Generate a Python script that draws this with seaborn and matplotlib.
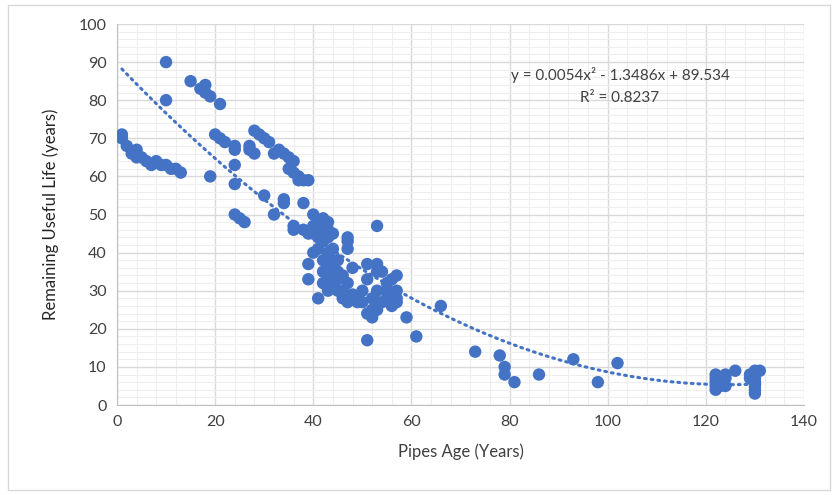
import numpy as np
import pandas as pd
import seaborn as sns
import matplotlib.pyplot as plt
from matplotlib.patches import Rectangle
from matplotlib.ticker import MultipleLocator

# pipe age (years) and remaining useful life (years)
age = [1, 1, 2, 3, 4, 4, 5, 6, 7, 8, 9, 10, 11, 12, 13,
       10, 10, 15, 17, 18, 18, 19, 21, 19, 20, 21, 22, 24, 24, 24, 24, 24, 25, 26,
       27, 27, 28, 28, 29, 30, 30, 31, 32, 32, 33, 34, 34, 34, 35, 35, 36, 36, 36, 36,
       37, 37, 38, 38, 39, 38, 39, 39, 39, 40, 40, 40, 40, 41, 41, 41, 41,
       42, 42, 42, 42, 42, 42, 43, 43, 43, 43, 43, 43, 43, 44, 44, 44, 44, 44,
       45, 45, 45, 45, 46, 46, 46, 47, 47, 47, 47, 47, 48, 48, 48, 49, 49, 50, 50,
       51, 51, 51, 51, 52, 52, 52, 53, 53, 53, 53, 53, 53, 54, 54, 55, 55, 55,
       56, 56, 57, 57, 57, 57, 59, 61, 66, 73, 78, 79, 79, 81, 86, 93, 98, 102,
       122, 122, 122, 122, 122, 123, 123, 123, 124, 124, 124, 126, 129, 129,
       130, 130, 130, 130, 130, 130, 130, 131]
life = [71, 70, 68, 66, 67, 65, 65, 64, 63, 64, 63, 63, 62, 62, 61,
        90, 80, 85, 83, 84, 82, 81, 79, 60, 71, 70, 69, 68, 67, 63, 58, 50, 49, 48,
        68, 67, 72, 66, 71, 70, 55, 69, 66, 50, 67, 66, 54, 53, 65, 62, 64, 61, 47, 46,
        60, 59, 59, 53, 59, 46, 45, 37, 33, 50, 47, 45, 40, 48, 44, 41, 28,
        49, 46, 43, 38, 35, 32, 48, 46, 44, 40, 36, 33, 30, 45, 41, 38, 35, 31,
        38, 35, 33, 30, 34, 30, 28, 44, 43, 41, 32, 27, 29, 28, 36, 28, 27, 30, 27,
        37, 33, 24, 17, 28, 25, 23, 47, 37, 35, 30, 27, 25, 35, 27, 30, 32, 28,
        33, 26, 34, 30, 28, 27, 23, 18, 26, 14, 13, 10, 8, 6, 8, 12, 6, 11,
        8, 7, 6, 5, 4, 7, 6, 5, 8, 7, 5, 9, 8, 7,
        9, 8, 7, 6, 5, 4, 3, 9]

# trendline coefficients as printed on the chart
coef = [0.0054, -1.3486, 89.534]
r2 = 0.8237

blue = "#4472C4"
df = pd.DataFrame({"age": age, "life": life})
xs = np.linspace(1, 131, 200)
trend = pd.DataFrame({"age": xs, "life": np.polyval(coef, xs)})

sns.set_style("white")
plt.rcParams["font.family"] = ["Lato", "DejaVu Sans"]

fig = plt.figure(figsize=(8.38, 4.95), dpi=100)
ax = fig.add_axes([0.1396, 0.1818, 0.8198, 0.7697])

sns.scatterplot(data=df, x="age", y="life", ax=ax, color=blue, s=80,
                edgecolor="none", zorder=3)
sns.lineplot(data=trend, x="age", y="life", ax=ax, color=blue, lw=2.2,
             linestyle=(0, (0.6, 1.6)), dash_capstyle="round", zorder=2)

ax.set_xlim(0, 140)
ax.set_ylim(0, 100)
ax.xaxis.set_major_locator(MultipleLocator(20))
ax.yaxis.set_major_locator(MultipleLocator(10))
ax.xaxis.set_minor_locator(MultipleLocator(4))
ax.yaxis.set_minor_locator(MultipleLocator(2))
ax.grid(which="major", color="#d9d9d9", lw=1)
ax.grid(which="minor", color="#eeeeee", lw=0.8)
ax.set_axisbelow(True)
for s in ["top", "right"]:
    ax.spines[s].set_visible(False)
for s in ["left", "bottom"]:
    ax.spines[s].set_color("#bfbfbf")
ax.tick_params(which="major", length=4, color="#bfbfbf", labelsize=11.5,
               labelcolor="#404040")
ax.tick_params(which="minor", length=0)

ax.set_xlabel("Pipes Age (Years)", fontsize=12, color="#404040", labelpad=10)
ax.set_ylabel("Remaining Useful Life (years)", fontsize=12, color="#262626",
              labelpad=14)

fig.text(620 / 838, 1 - 75 / 495, "y = 0.0054x² - 1.3486x + 89.534",
         ha="center", va="center", fontsize=11, color="#404040")
fig.text(620 / 838, 1 - 98 / 495, f"R² = {r2}",
         ha="center", va="center", fontsize=11, color="#404040")

fig.patches.append(Rectangle((0.01, 0.01), 0.98, 0.98, transform=fig.transFigure,
                             fill=False, edgecolor="#d9d9d9", lw=1))

fig.savefig("out.png", dpi=100)
